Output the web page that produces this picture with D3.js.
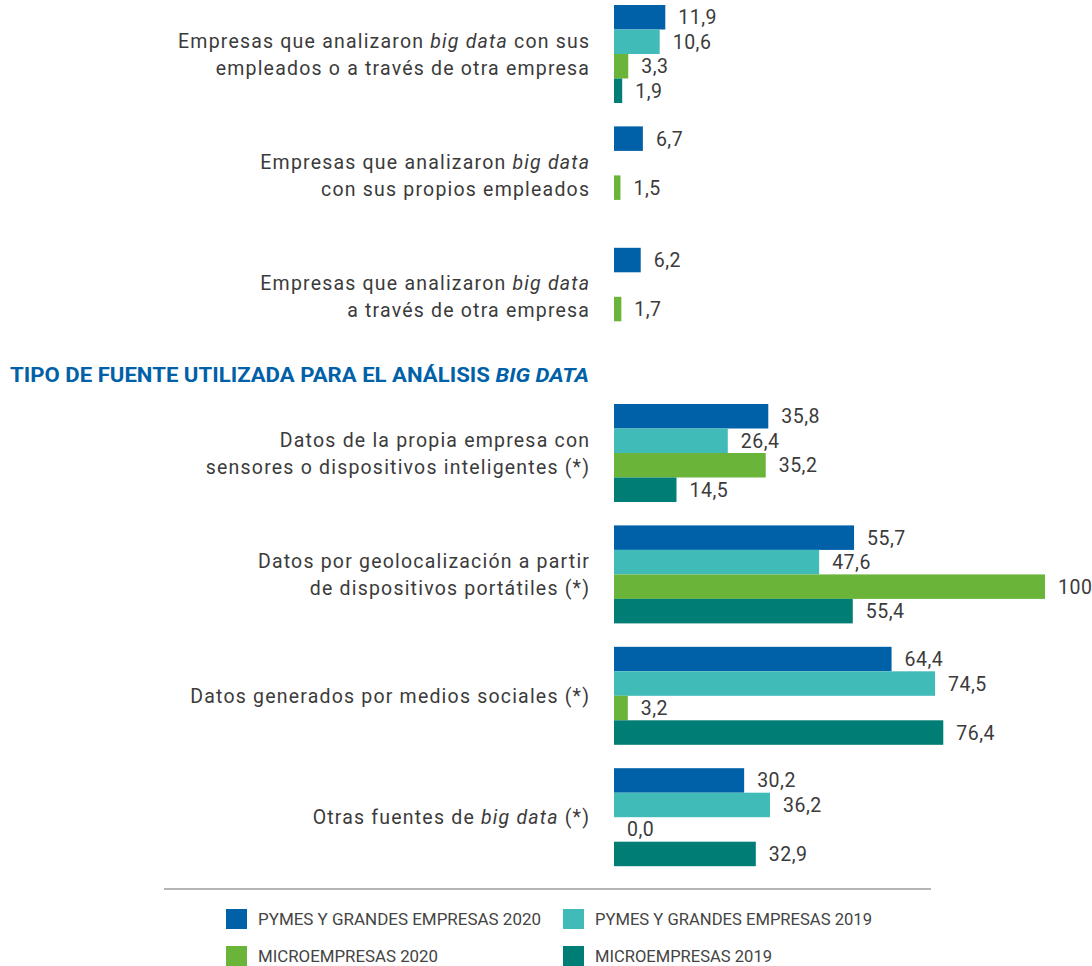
<!DOCTYPE html>
<html><head><meta charset="utf-8">
<script src="https://cdn.jsdelivr.net/npm/d3@7"></script>
<style>
html,body{margin:0;padding:0;background:#fff;}
svg{display:block;}
</style></head>
<body>
<svg id="chart" width="1092" height="966"></svg>
<script>
// ---------- DATA ----------
const seriesKeys = ["pg2020", "pg2019", "mi2020", "mi2019"];
const seriesNames = ["PYMES Y GRANDES EMPRESAS 2020", "PYMES Y GRANDES EMPRESAS 2019", "MICROEMPRESAS 2020", "MICROEMPRESAS 2019"];
const seriesColors = ["#0061A8", "#41BBB8", "#6AB43A", "#007D74"];

const section1Cats = ["s1a", "s1b", "s1c"];
const section1Labels = [
  [[["Empresas que analizaron ", false], ["big data", true], [" con sus", false]], [["empleados o a través de otra empresa", false]]],
  [[["Empresas que analizaron ", false], ["big data", true]], [["con sus propios empleados", false]]],
  [[["Empresas que analizaron ", false], ["big data", true]], [["a través de otra empresa", false]]]
];
const section1_pg2020 = [11.9, 6.7, 6.2];
const section1_pg2019 = [10.6, null, null];
const section1_mi2020 = [3.3, 1.5, 1.7];
const section1_mi2019 = [1.9, null, null];

const section2Title = [["TIPO DE FUENTE UTILIZADA PARA EL ANÁLISIS ", false], ["BIG DATA", true]];
const section2Cats = ["s2a", "s2b", "s2c", "s2d"];
const section2Labels = [
  [[["Datos de la propia empresa con", false]], [["sensores o dispositivos inteligentes (*)", false]]],
  [[["Datos por geolocalización a partir", false]], [["de dispositivos portátiles (*)", false]]],
  [[["Datos generados por medios sociales (*)", false]]],
  [[["Otras fuentes de ", false], ["big data", true], [" (*)", false]]]
];
const section2_pg2020 = [35.8, 55.7, 64.4, 30.2];
const section2_pg2019 = [26.4, 47.6, 74.5, 36.2];
const section2_mi2020 = [35.2, 100, 3.2, 0.0];
const section2_mi2019 = [14.5, 55.4, 76.4, 32.9];

// ---------- LAYOUT ----------
const svg = d3.select("#chart");
const fontFam = "Roboto, 'Noto Sans', sans-serif";
const textColor = "#3b3b3b";

const x = d3.scaleLinear().domain([0, 100]).range([614, 1045]);
const fmt = v => d3.format(".1f")(v).replace(".", ",");
const fmtVal = v => (v === 100 ? "100" : fmt(v));

const step = 121.4, bw = 98;
const pin = (step - bw) / step;
function groupScale(cats, start) {
  const len = step * (cats.length - pin);
  return d3.scaleBand().domain(cats).range([start, start + len]).paddingInner(pin).paddingOuter(0);
}
const y1 = groupScale(section1Cats, 5);
const y2 = groupScale(section2Cats, 404);
const ySeries = d3.scaleBand().domain(seriesKeys).range([0, bw]).padding(0);

function buildRows(cats, arrs) {
  return cats.map((c, i) => ({
    cat: c,
    vals: seriesKeys.map((k, j) => ({ key: k, color: seriesColors[j], value: arrs[j][i] }))
  }));
}
const rows1 = buildRows(section1Cats, [section1_pg2020, section1_pg2019, section1_mi2020, section1_mi2019]);
const rows2 = buildRows(section2Cats, [section2_pg2020, section2_pg2019, section2_mi2020, section2_mi2019]);

function drawSection(rows, yScale, labels) {
  const g = svg.append("g");
  const grp = g.selectAll("g.grp").data(rows).join("g")
    .attr("transform", d => `translate(0,${yScale(d.cat)})`);
  const bars = grp.selectAll("g.bar").data(d => d.vals.filter(v => v.value !== null)).join("g");
  bars.append("rect")
    .attr("x", x(0))
    .attr("y", d => ySeries(d.key))
    .attr("width", d => x(d.value) - x(0))
    .attr("height", ySeries.bandwidth())
    .attr("fill", d => d.color);
  bars.append("text")
    .attr("x", d => x(d.value) + 13)
    .attr("y", d => ySeries(d.key) + ySeries.bandwidth() / 2)
    .attr("dy", "0.36em")
    .attr("font-family", fontFam)
    .attr("font-size", 19.5)
    .attr("letter-spacing", 0.5)
    .attr("fill", textColor)
    .text(d => fmtVal(d.value));
  // category labels
  grp.each(function (d, i) {
    const lines = labels[i];
    const lh = 27;
    const cy = bw / 2;
    const t0 = cy - (lines.length - 1) * lh / 2;
    const sel = d3.select(this);
    lines.forEach((parts, li) => {
      const t = sel.append("text")
        .attr("x", 590.2)
        .attr("y", t0 + li * lh)
        .attr("dy", "0.36em")
        .attr("text-anchor", "end")
        .attr("font-family", fontFam)
        .attr("font-size", 19.5)
        .attr("letter-spacing", 1.2)
        .attr("fill", textColor);
      parts.forEach(p => {
        t.append("tspan").attr("font-style", p[1] ? "italic" : "normal").text(p[0]);
      });
    });
  });
}
drawSection(rows1, y1, section1Labels);
drawSection(rows2, y2, section2Labels);

// Section heading
const head = svg.append("text")
  .attr("x", 10).attr("y", 375).attr("dy", "0.36em")
  .attr("font-family", fontFam).attr("font-size", 20).attr("font-weight", 700)
  .attr("fill", "#0061A8");
section2Title.forEach(p => head.append("tspan").attr("font-style", p[1] ? "italic" : "normal").text(p[0]));
head.attr("textLength", 579).attr("lengthAdjust", "spacingAndGlyphs");

// Separator
svg.append("line").attr("x1", 164).attr("x2", 931).attr("y1", 889).attr("y2", 889)
  .attr("stroke", "#b5b5b5").attr("stroke-width", 2);

// Legend
const legPos = [[226, 919], [563, 919], [226, 956], [563, 956]];
const legW = [283, 277, 180, 177];
const leg = svg.append("g").selectAll("g").data(seriesKeys).join("g")
  .attr("transform", (d, i) => `translate(${legPos[i][0]},${legPos[i][1]})`);
leg.append("rect").attr("x", 0).attr("y", -10).attr("width", 21).attr("height", 20)
  .attr("fill", (d, i) => seriesColors[i]);
leg.append("text").attr("x", 32).attr("y", 0).attr("dy", "0.36em")
  .attr("font-family", fontFam).attr("font-size", 16.5).attr("fill", "#444")
  .text((d, i) => seriesNames[i])
  .attr("textLength", (d, i) => legW[i]).attr("lengthAdjust", "spacingAndGlyphs");
</script>
</body></html>
